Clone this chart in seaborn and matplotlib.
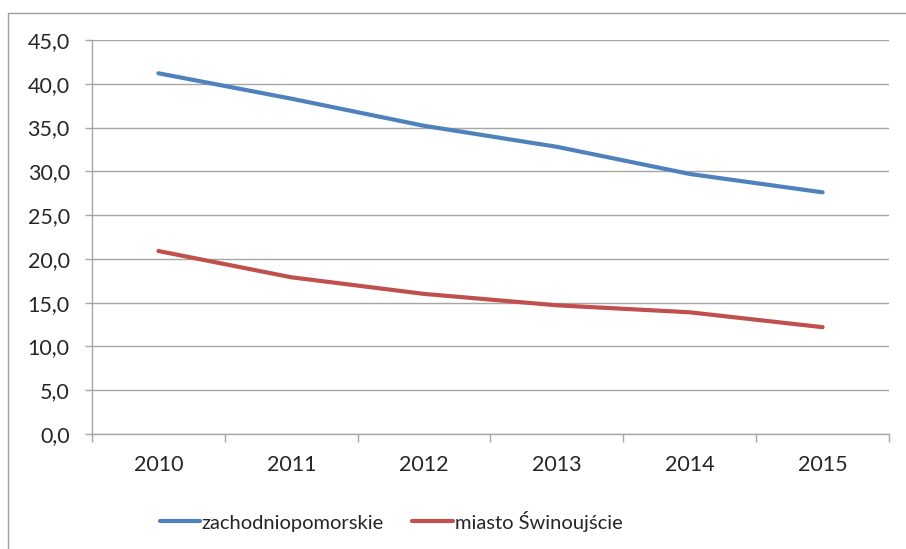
import matplotlib
matplotlib.use("Agg")
import matplotlib.pyplot as plt
import pandas as pd
import seaborn as sns
from matplotlib.lines import Line2D
from matplotlib.ticker import FuncFormatter, MultipleLocator, FixedLocator

years = ["2010", "2011", "2012", "2013", "2014", "2015"]
zachodniopomorskie = [41.2, 38.3, 35.2, 32.8, 29.7, 27.6]
swinoujscie = [20.9, 17.9, 16.0, 14.7, 13.9, 12.2]
series_names = ["zachodniopomorskie", "miasto Świnoujście"]
colors = ["#4F81BD", "#C0504D"]

df = pd.DataFrame({
    "rok": years * 2,
    "wartosc": zachodniopomorskie + swinoujscie,
    "seria": [series_names[0]] * len(years) + [series_names[1]] * len(years),
})

sns.set_theme(style="white")
plt.rcParams["font.family"] = ["Lato", "DejaVu Sans"]
text_color = "#262626"
grid_color = "#A6A6A6"

fig = plt.figure(figsize=(9.06, 5.49), dpi=100)
ax = fig.add_axes([92 / 906, 1 - 434 / 549, (889 - 92) / 906, (434 - 40) / 549])

sns.lineplot(data=df, x="rok", y="wartosc", hue="seria", palette=colors,
             linewidth=3, sort=False, legend=False, ax=ax)

ax.set_xlim(-0.5, len(years) - 0.5)
ax.set_ylim(0, 45)
ax.yaxis.set_major_locator(MultipleLocator(5))
ax.yaxis.set_major_formatter(FuncFormatter(lambda v, p: f"{v:.1f}".replace(".", ",")))
ax.xaxis.set_minor_locator(FixedLocator([i - 0.5 for i in range(len(years) + 1)]))

ax.yaxis.grid(True, color=grid_color, linewidth=1)
ax.set_axisbelow(True)
ax.set_xlabel("")
ax.set_ylabel("")

for side in ["top", "right"]:
    ax.spines[side].set_visible(False)
for side in ["left", "bottom"]:
    ax.spines[side].set_color(grid_color)
    ax.spines[side].set_linewidth(1)

ax.tick_params(axis="y", which="major", left=True, length=5, width=1, color=grid_color,
               pad=11, labelsize=15.5, labelcolor=text_color)
ax.tick_params(axis="x", which="major", bottom=True, length=0, pad=15,
               labelsize=15.5, labelcolor=text_color)
ax.tick_params(axis="x", which="minor", bottom=True, length=6, width=1, color=grid_color)

handles = [Line2D([], [], color=c, linewidth=3) for c in colors]
fig.legend(handles, series_names, loc="center", bbox_to_anchor=(391 / 906, 1 - 521 / 549),
           ncol=2, frameon=False, fontsize=14.5, handlelength=2.0, handletextpad=0.1,
           columnspacing=1.4, labelcolor=text_color)

# chart border (only left and top edges are visible in the reference)
fig.add_artist(Line2D([8 / 906, 8 / 906], [0, 1 - 12.5 / 549], transform=fig.transFigure,
                      color="#A0A0A0", linewidth=1))
fig.add_artist(Line2D([8 / 906, 1], [1 - 12.5 / 549, 1 - 12.5 / 549], transform=fig.transFigure,
                      color="#A0A0A0", linewidth=1))

fig.savefig("out.png", dpi=100)
